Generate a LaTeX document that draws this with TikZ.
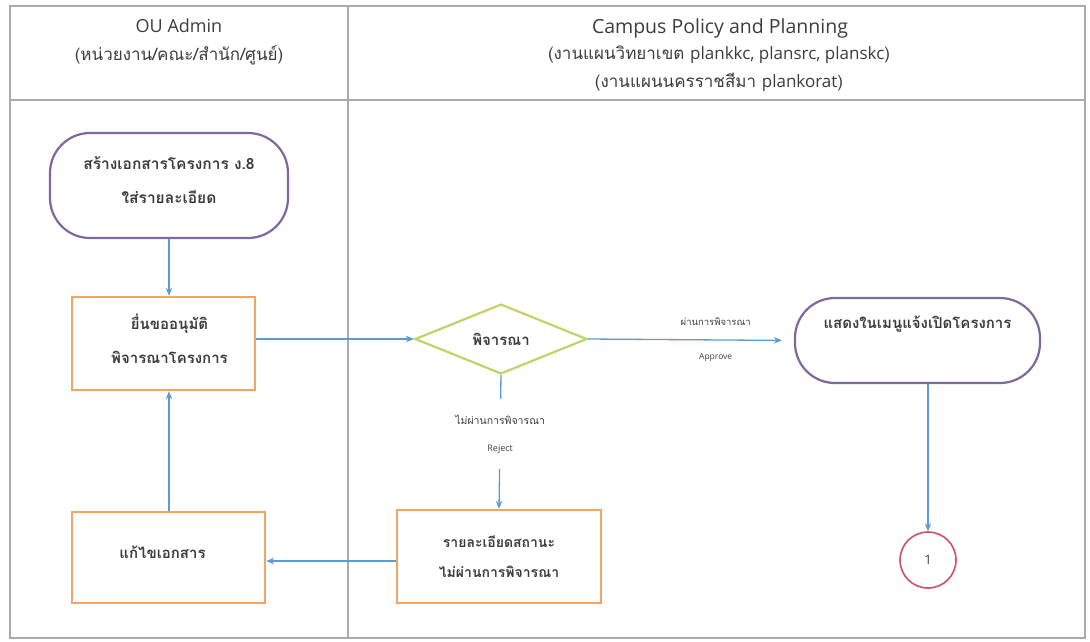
\documentclass[tikz,border=0pt]{standalone}
\usepackage{fontspec}
\setmainfont{Open Sans}
\newfontfamily\thai[Script=Thai]{Loma}
\usetikzlibrary{shapes.geometric,arrows.meta}

\definecolor{lanegray}{RGB}{170,170,170}
\definecolor{flowblue}{RGB}{91,155,213}
\definecolor{boxorange}{RGB}{240,165,100}
\definecolor{termpurple}{RGB}{125,105,160}
\definecolor{decgreen}{RGB}{190,212,105}
\definecolor{refred}{RGB}{210,80,100}
\definecolor{ink}{RGB}{60,60,60}

\tikzset{
  lane/.style={draw=lanegray, line width=1.4pt},
  headtxt/.style={text=ink, inner sep=0pt, font=\fontsize{18}{18}\selectfont},
  headthai/.style={text=ink, inner sep=0pt, font=\thai\fontsize{17}{17}\selectfont},
  procbox/.style={draw=boxorange, line width=2.4pt, fill=white, text=ink, align=center, inner sep=0pt},
  terminal/.style={draw=termpurple, line width=2.2pt, rounded corners=40pt, fill=white, text=ink, align=center, inner sep=0pt},
  decision/.style={diamond, draw=decgreen, line width=2.2pt, fill=white, text=ink, inner sep=0pt},
  connector/.style={circle, draw=refred, line width=1.6pt, fill=white, text=ink, inner sep=0pt, minimum size=56pt},
  flow/.style={draw=flowblue, line width=1.3pt, -{Stealth[length=8pt,width=6.5pt]}},
  edgetxt/.style={text=ink, align=center, inner sep=0pt, fill=white}
}
\newcommand{\latin}[1]{{\fontspec{Open Sans}#1}}

\begin{document}
\begin{tikzpicture}[x=1pt,y=-1pt]
  \useasboundingbox (0,0) rectangle (1090,641);

  % swimlane frame
  \draw[lane] (10,6) rectangle (1085,638);
  \draw[lane] (10,100) -- (1085,100);
  \draw[lane] (348,6) -- (348,638);

  % lane headings
  \node[headtxt]  (hA1) at (179,26) {OU Admin};
  \node[headthai] (hA2) at (179,55) {(หน่วยงาน/คณะ/สำนัก/ศูนย์)};
  \node[headtxt, font=\fontsize{19.5}{19.5}\selectfont] (hB1) at (720,28) {Campus Policy and Planning};
  \node[headthai] (hB2) at (719,55) {(งานแผนวิทยาเขต \latin{plankkc, plansrc, planskc})};
  \node[headthai] (hB3) at (719,82) {(งานแผนนครราชสีมา \latin{plankorat})};

  % flow nodes
  \node[terminal, minimum width=238pt, minimum height=105pt,
        font=\thai\bfseries\fontsize{15.5}{34}\selectfont] (start) at (169,185.5)
        {สร้างเอกสารโครงการ ง.8\\ใส่รายละเอียด\\[-23pt]};
  \node[procbox, minimum width=183pt, minimum height=93pt,
        font=\thai\bfseries\fontsize{15}{34}\selectfont] (submit) at (163.5,343.5)
        {\hspace*{12pt}ยื่นขออนุมัติ\\\hspace*{12pt}พิจารณาโครงการ\\[-24pt]};
  \node[decision, minimum width=172pt, minimum height=68pt,
        font=\thai\bfseries\fontsize{15}{15}\selectfont] (consider) at (501,339) {พิจารณา};
  \node[terminal, minimum width=245pt, minimum height=85pt,
        font=\thai\bfseries\fontsize{15}{15}\selectfont] (show) at (917.5,340.5)
        {แสดงในเมนูแจ้งเปิดโครงการ\\[22pt]};
  \node[connector, font=\fontsize{13}{13}\selectfont] (one) at (928,560) {1};
  \node[procbox, minimum width=204pt, minimum height=93pt,
        font=\thai\bfseries\fontsize{14}{30}\selectfont] (status) at (499,556.5)
        {รายละเอียดสถานะ\\ไม่ผ่านการพิจารณา};
  \node[procbox, minimum width=193pt, minimum height=91pt,
        font=\thai\bfseries\fontsize{15}{15}\selectfont] (fix) at (168.5,557.5)
        {แก้ไขเอกสาร\hspace*{12pt}\\[-5pt]};

  % connectors
  \draw[flow] (start.south) -- (start.south |- submit.north);
  \draw[flow] (consider.west -| submit.east) -- (consider.west);
  \draw[flow, shorten >=12pt] (consider.east) --
     node[edgetxt, pos=0.62, fill=none, font=\thai\fontsize{9.5}{34}\selectfont]
     {ผ่านการพิจารณา\\{\latin{\fontsize{8.5}{10}\selectfont Approve}}}
     (show.west);
  \draw[flow] (consider.south) --
     node[edgetxt, pos=0.44, minimum height=70pt, font=\thai\fontsize{10.5}{27}\selectfont]
     {ไม่ผ่านการพิจารณา\\{\latin{\fontsize{9}{10}\selectfont Reject}}}
     (status.north);
  \draw[flow] (show.south -| one) -- (one.north);
  \draw[flow] ([yshift=-4.5pt]status.west) -- ([yshift=-4.5pt]status.west -| fix.east);
  \draw[flow] (fix.north -| start.south) -- (submit.south -| start.south);
\end{tikzpicture}
\end{document}
